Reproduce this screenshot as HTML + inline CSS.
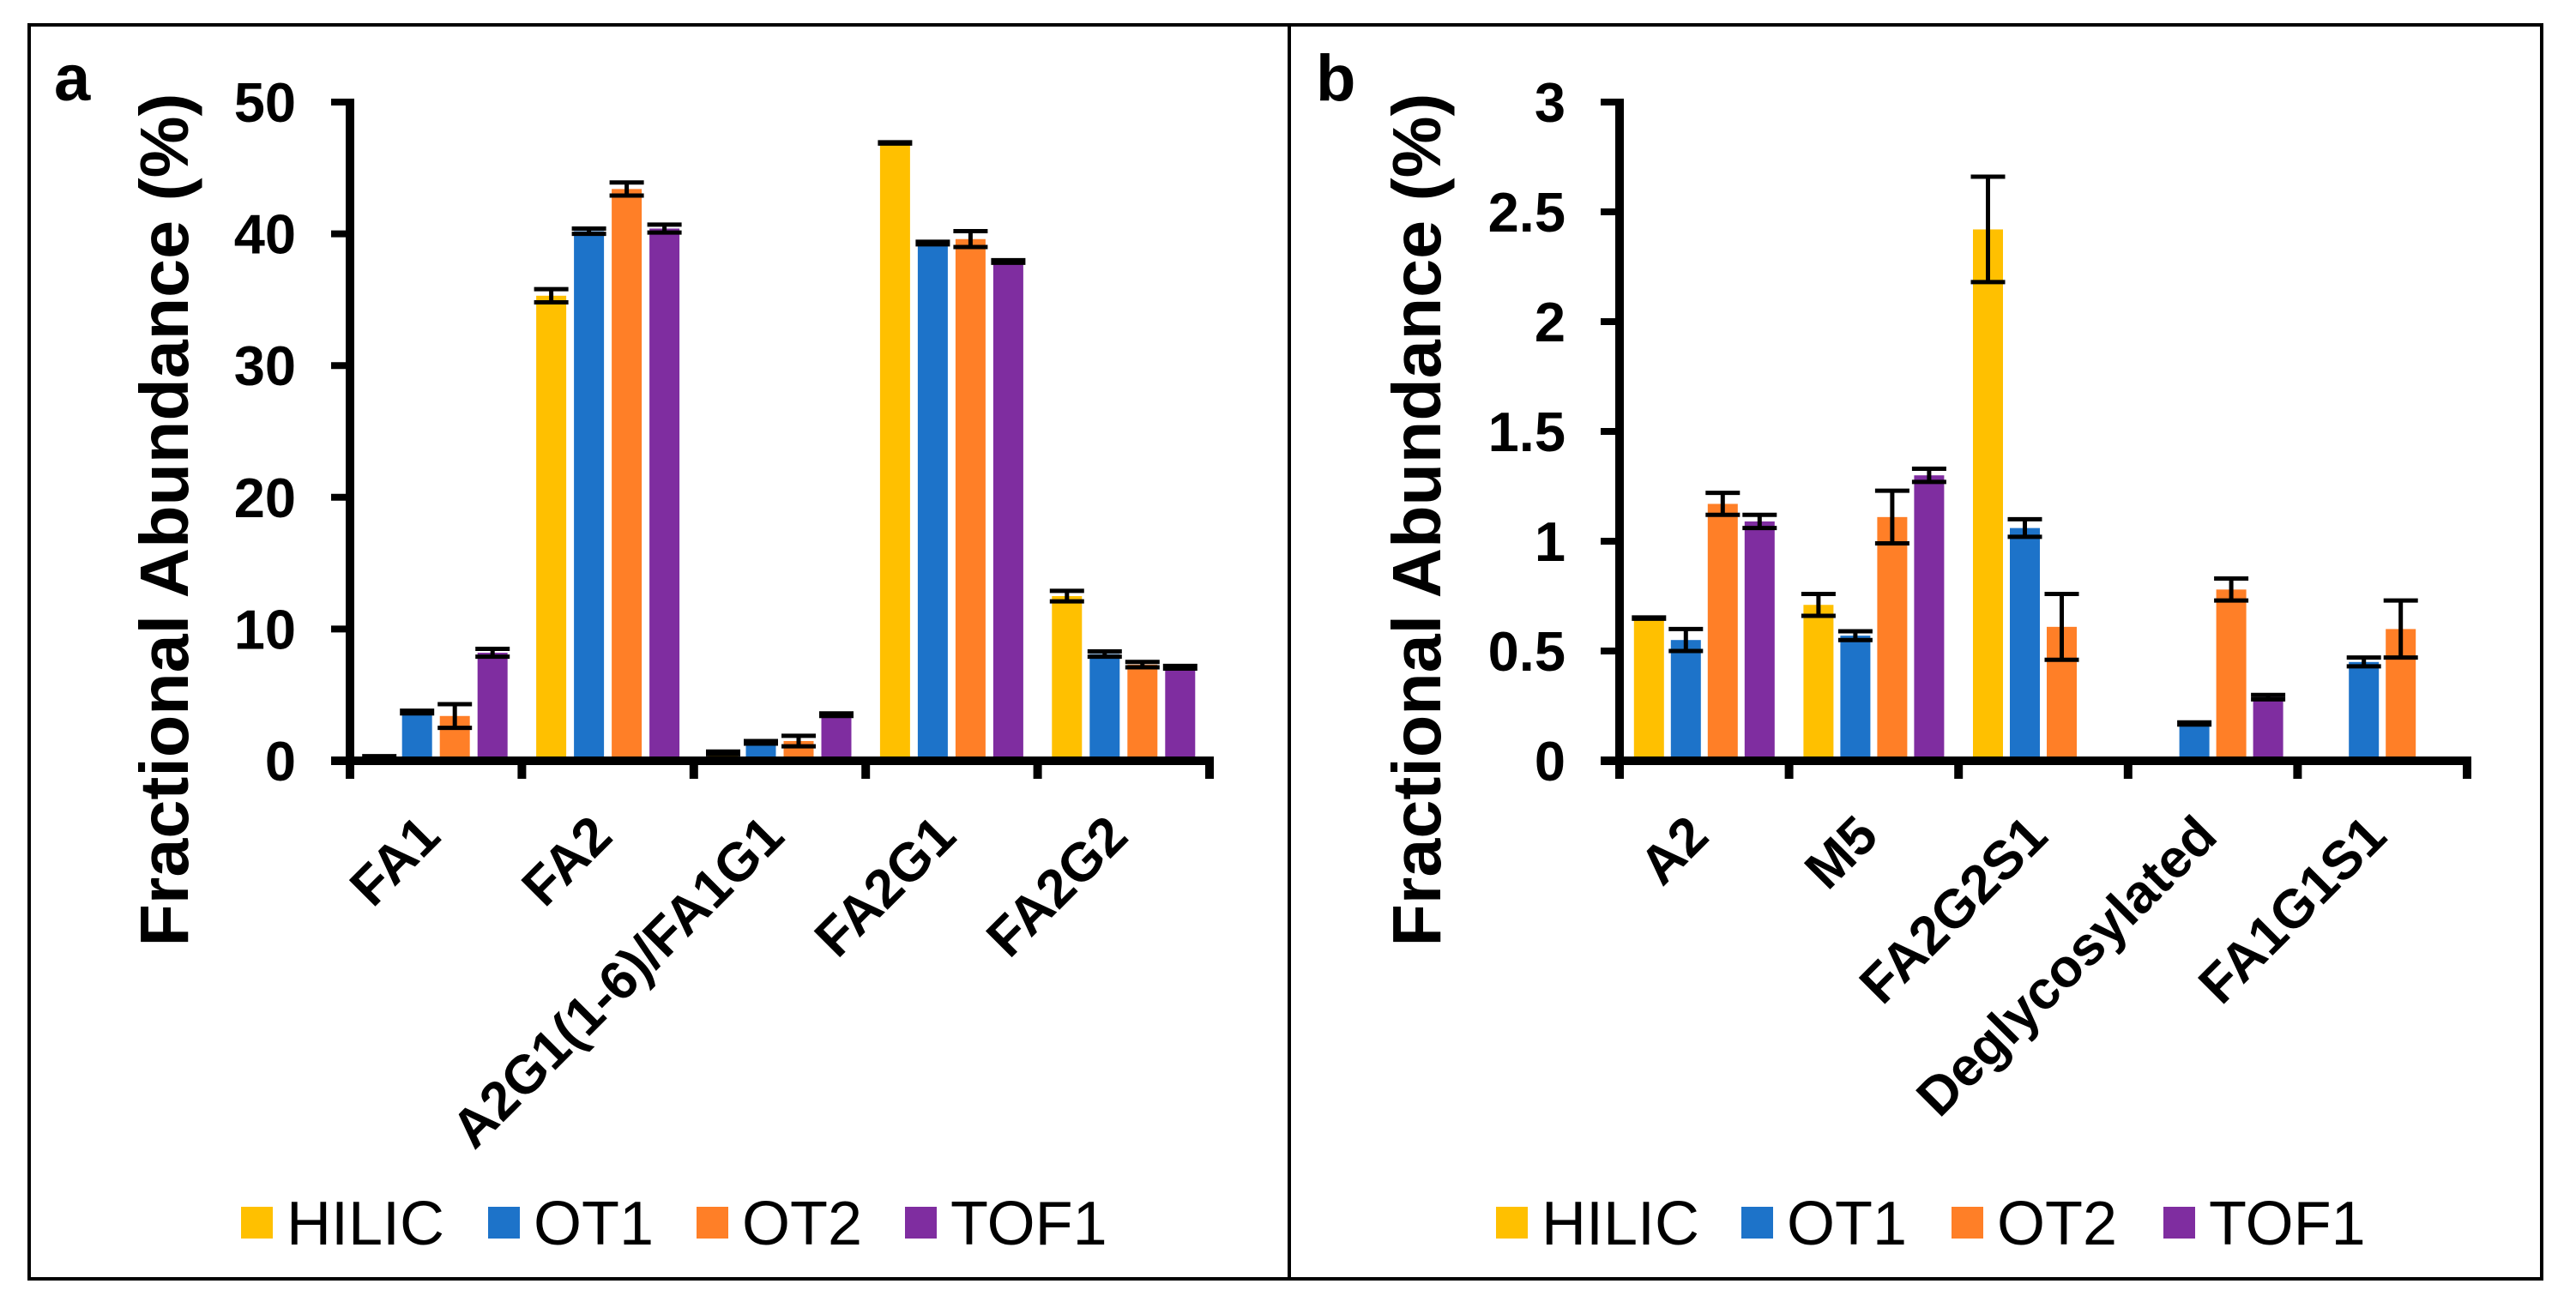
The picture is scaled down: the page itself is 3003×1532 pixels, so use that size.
<!DOCTYPE html>
<html><head><meta charset="utf-8"><style>
html,body{margin:0;padding:0;background:#fff;}
svg{display:block;font-family:"Liberation Sans",Arial,sans-serif;}
</style></head><body>
<svg id="chart" width="3003" height="1532" viewBox="0 0 3003 1532" xmlns="http://www.w3.org/2000/svg">
<rect x="0" y="0" width="3003" height="1532" fill="#fff"/>
<rect x="34" y="29" width="2929" height="1462" fill="none" stroke="#000" stroke-width="4"/>
<line x1="1503" y1="29" x2="1503" y2="1491" stroke="#000" stroke-width="4"/>
<g id="pa"></g>
<g id="pb"></g>
</svg>
<script>
const seriesNames = ["HILIC","OT1","OT2","TOF1"];
const seriesColors = ["#FFC000","#1D73C9","#FF7F27","#7F2DA0"];

const catsA = ["FA1","FA2","A2G1(1-6)/FA1G1","FA2G1","FA2G2"];
const hilicA = [0.3,35.3,0.6,46.9,12.5];
const ot1A = [3.7,40.2,1.4,39.3,8.1];
const ot2A = [3.4,43.4,1.5,39.6,7.3];
const tof1A = [8.2,40.4,3.5,37.9,7.1];
const hilicErrA = [0.05,0.5,0.1,0.05,0.4];
const ot1ErrA = [0.1,0.2,0.1,0.1,0.2];
const ot2ErrA = [0.9,0.5,0.4,0.6,0.2];
const tof1ErrA = [0.3,0.3,0.1,0.1,0.1];
const ticksA = [0,10,20,30,40,50];
const tickLabelsA = ["0","10","20","30","40","50"];

const catsB = ["A2","M5","FA2G2S1","Deglycosylated","FA1G1S1"];
const hilicB = [0.65,0.71,2.42,null,null];
const ot1B = [0.55,0.57,1.06,0.17,0.45];
const ot2B = [1.17,1.11,0.61,0.78,0.60];
const tof1B = [1.09,1.30,null,0.29,null];
const hilicErrB = [0.003,0.05,0.24,0,0];
const ot1ErrB = [0.05,0.02,0.04,0.005,0.02];
const ot2ErrB = [0.05,0.12,0.15,0.05,0.13];
const tof1ErrB = [0.03,0.03,0,0.01,0];
const ticksB = [0,0.5,1,1.5,2,2.5,3];
const tickLabelsB = ["0","0.5","1","1.5","2","2.5","3"];

const NS="http://www.w3.org/2000/svg";
function mk(parent,tag,attrs){const e=document.createElementNS(NS,tag);for(const k in attrs)e.setAttribute(k,attrs[k]);parent.appendChild(e);return e;}

function drawPanel(g,cfg){
  const x0=cfg.axisX, x1=cfg.axisEnd, y0=887, yTop=119;
  const yScale=v=>y0-(v/cfg.max)*(y0-yTop);
  const n=cfg.cats.length, cw=(x1-x0)/n;
  const xCenter=i=>x0+cw*(i+0.5);
  const L=mk(g,'text',{x:cfg.letterX,y:117,'font-size':76,'font-weight':'bold'});
  L.textContent=cfg.letter;
  
  
  const T=mk(g,'text',{x:cfg.titleX,y:606,'font-size':80,'font-weight':'bold','text-anchor':'middle',transform:`rotate(-90 ${cfg.titleX} 606)`,textLength:995,lengthAdjust:'spacingAndGlyphs'});
  T.textContent='Fractional Abundance (%)';
  
  
  const series=[cfg.s0,cfg.s1,cfg.s2,cfg.s3], errs=[cfg.e0,cfg.e1,cfg.e2,cfg.e3];
  const offs=[-1.5,-0.5,0.5,1.5], bw=35, pitch=cfg.pitch;
  for(let s=0;s<4;s++){
    for(let i=0;i<n;i++){
      const v=series[s][i]; if(v===null) continue;
      const cx=xCenter(i)+offs[s]*pitch;
      const yv=yScale(v);
      const r=mk(g,'rect',{x:cx-bw/2,y:yv,width:bw,height:y0-yv,fill:seriesColors[s]});
      
      
      const e=errs[s][i];
      const yh=yScale(v+e), yl=yScale(v-e);
      const eb=mk(g,'path',{d:`M${cx-20} ${yh}H${cx+20}M${cx} ${yh}V${yl}M${cx-20} ${yl}H${cx+20}`,stroke:'#000','stroke-width':5,fill:'none'});
      
      
    }
  }
  const ya=mk(g,'line',{x1:x0,y1:yTop-4,x2:x0,y2:y0+20,stroke:'#000','stroke-width':10});
  
  
  const xa=mk(g,'line',{x1:x0-22,y1:y0,x2:x1+5,y2:y0,stroke:'#000','stroke-width':10});
  
  
  for(let i=0;i<=n;i++){
    const tx=x0+cw*i;
    const t=mk(g,'line',{x1:tx,y1:y0,x2:tx,y2:y0+21,stroke:'#000','stroke-width':10});
    
    
  }
  cfg.ticks.forEach((tv,k)=>{
    const ty=yScale(tv);
    const t=mk(g,'line',{x1:x0-22,y1:ty,x2:x0,y2:ty,stroke:'#000','stroke-width':8});
    
    
    const tl=mk(g,'text',{x:x0-63,y:ty+23,'font-size':65,'font-weight':'bold','text-anchor':'end'});
    tl.textContent=cfg.tickLabels[k];
    
    
  });
  cfg.cats.forEach((c,i)=>{
    const px=xCenter(i)+8, py=978;
    const t=mk(g,'text',{x:px,y:py,'font-size':63,'font-weight':'bold','text-anchor':'end',transform:`rotate(-45 ${px} ${py})`});
    t.textContent=c;
    
    
  });
  seriesNames.forEach((nm,s)=>{
    const lx=cfg.legendX[s];
    const sq=mk(g,'rect',{x:lx,y:1407,width:37,height:37,fill:seriesColors[s]});
    
    
    const lt=mk(g,'text',{x:lx+53,y:1451,'font-size':72});
    lt.textContent=nm;
    
    
  });
}

drawPanel(document.getElementById('pa'),{letter:'a',letterX:63,titleX:219,axisX:408,axisEnd:1410,max:50,pitch:44,
  cats:catsA,s0:hilicA,s1:ot1A,s2:ot2A,s3:tof1A,e0:hilicErrA,e1:ot1ErrA,e2:ot2ErrA,e3:tof1ErrA,
  ticks:ticksA,tickLabels:tickLabelsA,legendX:[281,569,812,1055]});
drawPanel(document.getElementById('pb'),{letter:'b',letterX:1534,titleX:1679,axisX:1888,axisEnd:2876,max:3,pitch:43,
  cats:catsB,s0:hilicB,s1:ot1B,s2:ot2B,s3:tof1B,e0:hilicErrB,e1:ot1ErrB,e2:ot2ErrB,e3:tof1ErrB,
  ticks:ticksB,tickLabels:tickLabelsB,legendX:[1744,2030,2275,2522]});
</script>
</body></html>
